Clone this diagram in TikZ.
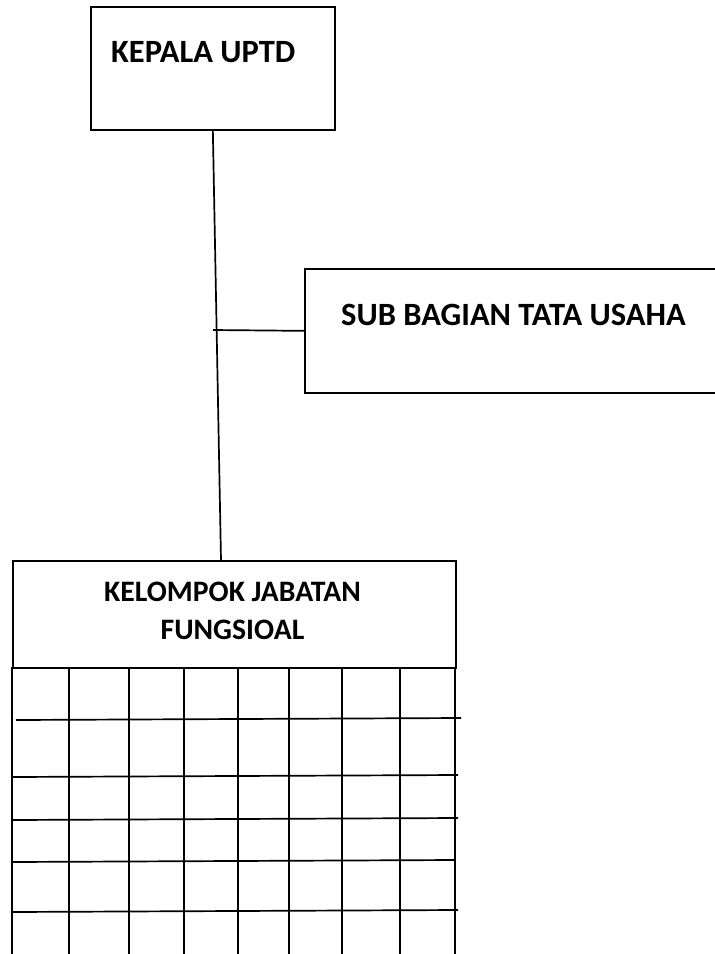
\documentclass[tikz,border=0pt]{standalone}
\usepackage{fontspec}
\setmainfont{Carlito}
\begin{document}
\begin{tikzpicture}[x=1pt,y=-1pt,
  box/.style={draw,line width=1.7pt,inner sep=0pt,anchor=north west},
  lbl/.style={font=\bfseries\fontsize{32.5}{42}\selectfont,inner sep=0pt},
  lblsmall/.style={font=\bfseries\fontsize{29.7}{40}\selectfont,inner sep=0pt},
  ln/.style={line width=1.7pt}]
\useasboundingbox (0,0) rectangle (715,954);
\clip (0,0) rectangle (715,954);
% boxes
\node[box,minimum width=244pt,minimum height=123pt] (kepala) at (90,6) {};
\node[box,minimum width=440pt,minimum height=124pt] (sub) at (304,268) {};
\node[box,minimum width=443pt,minimum height=107pt] (kel) at (12,560) {};
% labels
\node[lbl,anchor=base west] (tkepala) at (111,62) {KEPALA UPTD};
\node[lbl,anchor=base west] (tsub) at (341,325) {SUB BAGIAN TATA USAHA};
\node[lblsmall,anchor=base] (tkel1) at (232.5,601) {KELOMPOK JABATAN};
\node[lblsmall,anchor=base] (tkel2) at (232.5,639) {FUNGSIOAL};
% connectors
\coordinate (ktop) at (221,560);
\coordinate (branch) at (213,330);
\draw[ln] (kepala.south) -- (ktop);
\draw[ln] (branch) -- (sub.west);
% grid
\foreach \x in {12,69,129,184,238,289,342,400,455}
  \draw[ln] (\x,667) -- (\x,960);
\draw[ln] (16,720) -- (461,718);
\draw[ln] (12,777) -- (458,775);
\draw[ln] (12,820) -- (458,818);
\draw[ln] (12,862) -- (455,860);
\draw[ln] (12,912) -- (458,910);
\end{tikzpicture}
\end{document}
